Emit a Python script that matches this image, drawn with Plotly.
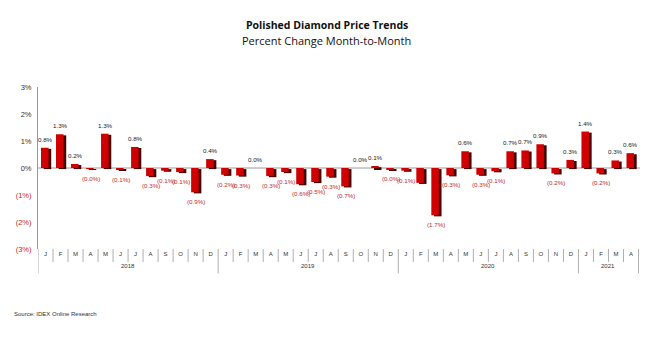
import plotly.graph_objects as go

months = ["J","F","M","A","M","J","J","A","S","O","N","D",
          "J","F","M","A","M","J","J","A","S","O","N","D",
          "J","F","M","A","M","J","J","A","S","O","N","D",
          "J","F","M","A"]
years = ["2018", "2019", "2020", "2021"]
year_counts = [12, 12, 12, 4]
values = [0.75, 1.25, 0.15, -0.03, 1.27, -0.07, 0.78, -0.30, -0.10, -0.15, -0.90, 0.33,
          -0.25, -0.28, 0.00, -0.30, -0.15, -0.60, -0.52, -0.32, -0.68, 0.00, 0.07, -0.05,
          -0.10, -0.55, -1.75, -0.27, 0.62, -0.25, -0.12, 0.62, 0.65, 0.88, -0.20, 0.30,
          1.35, -0.20, 0.28, 0.55]
labels = ["0.8%","1.3%","0.2%","(0.0%)","1.3%","(0.1%)","0.8%","(0.3%)","(0.1%)","(0.1%)","(0.9%)","0.4%",
          "(0.2%)","(0.3%)","0.0%","(0.3%)","(0.1%)","(0.6%)","(0.5%)","(0.3%)","(0.7%)","0.0%","0.1%","(0.0%)",
          "(0.1%)","","(1.7%)","(0.3%)","0.6%","(0.3%)","(0.1%)","0.7%","0.7%","0.9%","(0.2%)","0.3%",
          "1.4%","(0.2%)","0.3%","0.6%"]
ytick_vals = [3, 2, 1, 0, -1, -2, -3]
ytick_text = ["3%", "2%", "1%", "0%", "(1%)", "(2%)", "(3%)"]

NEG = "#c62828"
POS = "#222222"
x = list(range(len(values)))

fig = go.Figure()
# shadow / side face
fig.add_trace(go.Bar(x=x, y=values, base=[-0.04] * len(values), width=0.5, offset=-0.12,
                     marker=dict(color="#4a0000", line=dict(width=0)), hoverinfo="skip"))
# front face
fig.add_trace(go.Bar(x=x, y=values, width=0.5, offset=-0.3,
                     marker=dict(color="#d00000", line=dict(width=0))))

shapes = []
shapes.append(dict(type="line", xref="paper", yref="y", x0=0, x1=1, y0=0, y1=0,
                   line=dict(color="#9a9a9a", width=1), layer="below"))
idx = 0
bounds = [-0.5]
for c in year_counts:
    idx += c
    bounds.append(idx - 0.5)
for i in range(len(values) + 1):
    b = i - 0.5
    long = b in bounds
    shapes.append(dict(type="line", xref="x", yref="paper", x0=b, x1=b, y0=0,
                       y1=-0.15 if long else -0.08,
                       line=dict(color="#b0b0b0", width=1)))

annotations = []
# value labels
for xi, v, lab in zip(x, values, labels):
    if not lab:
        continue
    neg = lab.startswith("(")
    annotations.append(dict(x=xi, y=v, xref="x", yref="y", text=lab, showarrow=False,
                            yanchor="top" if neg else "bottom",
                            yshift=-4 if neg else 3,
                            font=dict(size=6.2, color=NEG if neg else POS,
                                      family="Liberation Sans")))

start = 0
for yr, c in zip(years, year_counts):
    annotations.append(dict(x=start + (c - 1) / 2, y=-0.105, xref="x", yref="paper",
                            text=yr, showarrow=False, yanchor="middle",
                            font=dict(size=6, color="#333", family="Liberation Sans")))
    start += c

annotations.append(dict(x=0.48, y=1.383, xref="paper", yref="paper", yanchor="middle",
                        text="<b>Polished Diamond Price Trends</b>", showarrow=False,
                        font=dict(size=10.5, color="#111", family="Open Sans")))
annotations.append(dict(x=0.48, y=1.29, xref="paper", yref="paper", yanchor="middle",
                        text="Percent Change Month-to-Month", showarrow=False,
                        font=dict(size=11, color="#111", family="Open Sans")))
annotations.append(dict(x=-0.0435, y=-0.401, xref="paper", yref="paper", xanchor="left",
                        yanchor="middle", text="Source: IDEX Online Research", showarrow=False,
                        font=dict(size=6, color="#333", family="Liberation Sans")))

ytext = [f"<span style='color:{NEG}'>{t}</span>" if t.startswith("(") else t for t in ytick_text]

fig.update_layout(
    width=645, height=342,
    margin=dict(l=38, r=5, t=87, b=93),
    paper_bgcolor="white", plot_bgcolor="white",
    barmode="overlay", showlegend=False,
    shapes=shapes, annotations=annotations,
    xaxis=dict(range=[-0.5, 39.6], tickvals=x, ticktext=months, ticks="", showgrid=False,
               zeroline=False, showline=False,
               tickfont=dict(size=6, color="#333", family="Liberation Sans")),
    yaxis=dict(range=[-3, 3], tickvals=ytick_vals, ticktext=ytext, showgrid=False,
               zeroline=False, showline=True, linecolor="#9a9a9a", linewidth=1,
               ticks="", ticklabelstandoff=4,
               tickfont=dict(size=7.5, color="#333", family="Liberation Sans")),
)

fig.write_html("out.html")
